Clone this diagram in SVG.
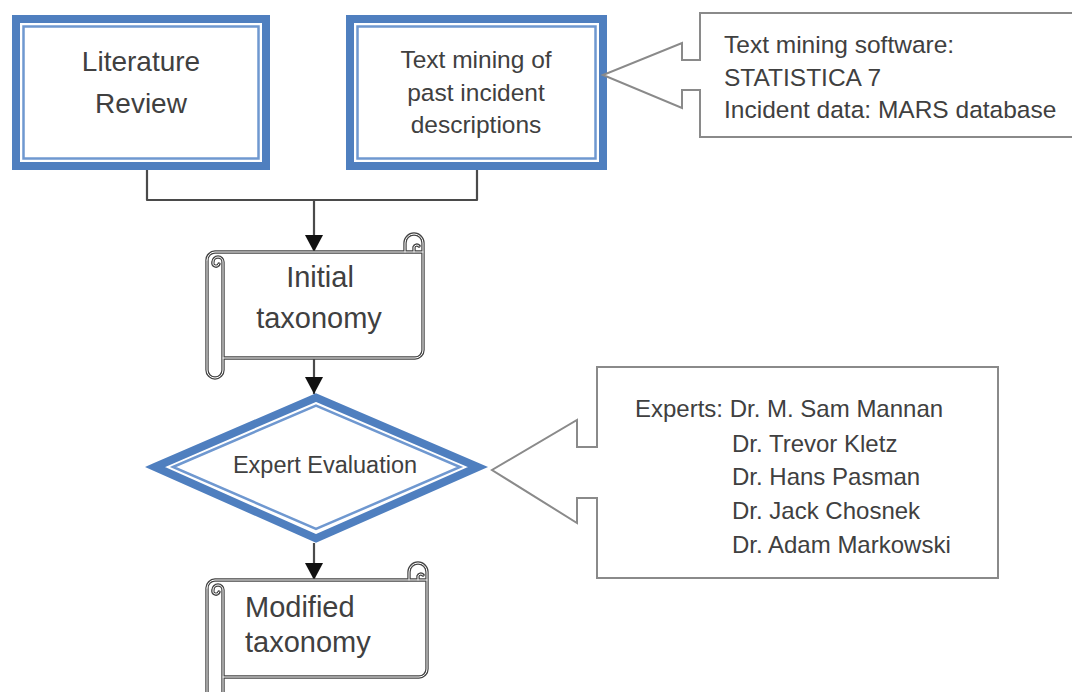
<svg xmlns="http://www.w3.org/2000/svg" width="1072" height="692" viewBox="0 0 1072 692">
<style>
text{font-family:"Liberation Sans",Arial,sans-serif;fill:#404040}
.band{fill:none;stroke:#4f7fbf;stroke-width:8;stroke-linejoin:miter}
.thin{fill:none;stroke:#6f98d0;stroke-width:2.5}
.conn{fill:none;stroke:#4a4a4a;stroke-width:2.2;stroke-linejoin:round}
.call{fill:#fff;stroke:#8a8a8a;stroke-width:2}
.sd{fill:none;stroke:#444;stroke-width:3.4;stroke-linejoin:round;stroke-linecap:round}
.sw{fill:none;stroke:#fff;stroke-width:1;stroke-linejoin:round;stroke-linecap:round}
</style>
<defs>
<marker id="ah" markerUnits="userSpaceOnUse" markerWidth="20" markerHeight="18" refX="17" refY="9" orient="auto">
<path d="M0,0 L17,9 L0,18 Z" fill="#111"/>
</marker>
<path id="scroll1" d="M207,260 A8,8 0 0 1 215,252 H423 M405,252 V243 A9,9 0 0 1 423,243 V350 A8,8 0 0 1 415,358 H223 M207,260 V370 A8,8 0 0 0 223,370 V262 A5,5 0 0 0 213,262 A3,3 0 0 0 219,264 M414,252 V247 A3,3 0 0 1 419,246"/>
<path id="scroll2" d="M207,588 A8,8 0 0 1 215,580 H427 M409,580 V572 A9,9 0 0 1 427,572 V669 A8,8 0 0 1 419,677 H223 M207,588 V700 M223,700 V590 A5,5 0 0 0 213,590 A3,3 0 0 0 219,592 M418,580 V576 A3,3 0 0 1 423,575"/>
</defs>

<g id="connectors">
<path class="conn" d="M147,170 V200 H477 V170"/>
<path class="conn" d="M314,200 V252" marker-end="url(#ah)"/>
<path class="conn" d="M314,358 V394" marker-end="url(#ah)"/>
<path class="conn" d="M314,543 V580" marker-end="url(#ah)"/>
</g>

<g id="literature-review">
<rect x="16" y="19" width="250" height="147" fill="#fff" class="band"/>
<rect x="23.5" y="26.5" width="235" height="132" class="thin"/>
<text x="141" y="71" font-size="28" text-anchor="middle">Literature</text>
<text x="141" y="113" font-size="28" text-anchor="middle">Review</text>
</g>

<g id="text-mining">
<rect x="350" y="19" width="253" height="147" fill="#fff" class="band"/>
<rect x="357.5" y="26.5" width="238" height="132" class="thin"/>
<text x="476" y="68" font-size="24.5" text-anchor="middle">Text mining of</text>
<text x="476" y="101" font-size="24.5" text-anchor="middle">past incident</text>
<text x="476" y="133" font-size="24.5" text-anchor="middle">descriptions</text>
</g>

<g id="callout-software">
<path class="call" d="M700,13 H1076 V137 H700 V90 H682 V108 L603,75 L682,43 V60 H700 Z"/>
<text x="724" y="53" font-size="24.5">Text mining software:</text>
<text x="724" y="85.5" font-size="24.5">STATISTICA 7</text>
<text x="724" y="118" font-size="24.5">Incident data: MARS database</text>
</g>

<g id="initial-taxonomy">
<path d="M215,252 H423 V350 A8,8 0 0 1 415,358 H223 V370 A8,8 0 0 1 207,370 V260 A8,8 0 0 1 215,252 Z" fill="#fff"/>
<use href="#scroll1" class="sd"/>
<use href="#scroll1" class="sw"/>
<text x="320" y="287" font-size="29" text-anchor="middle">Initial</text>
<text x="319" y="328" font-size="29" text-anchor="middle">taxonomy</text>
</g>

<g id="expert-evaluation">
<polygon points="155,467 316,397.5 478,467 316,538.5" fill="#fff" class="band"/>
<polygon points="173,467 316,405.5 460,467 316,529" class="thin"/>
<text x="325" y="473" font-size="23.5" text-anchor="middle">Expert Evaluation</text>
</g>

<g id="callout-experts">
<path class="call" d="M597,367 H998 V578 H597 V498 H577 V523 L492,470 L577,420 V447 H597 Z"/>
<text x="635" y="417" font-size="24">Experts: Dr. M. Sam Mannan</text>
<text x="732" y="452" font-size="24">Dr. Trevor Kletz</text>
<text x="732" y="485" font-size="24">Dr. Hans Pasman</text>
<text x="732" y="519" font-size="24">Dr. Jack Chosnek</text>
<text x="732" y="553" font-size="24">Dr. Adam Markowski</text>
</g>

<g id="modified-taxonomy">
<path d="M215,580 H427 V669 A8,8 0 0 1 419,677 H223 V700 H207 V588 A8,8 0 0 1 215,580 Z" fill="#fff"/>
<use href="#scroll2" class="sd"/>
<use href="#scroll2" class="sw"/>
<text x="245" y="617" font-size="29">Modified</text>
<text x="245" y="652" font-size="29">taxonomy</text>
</g>
</svg>
